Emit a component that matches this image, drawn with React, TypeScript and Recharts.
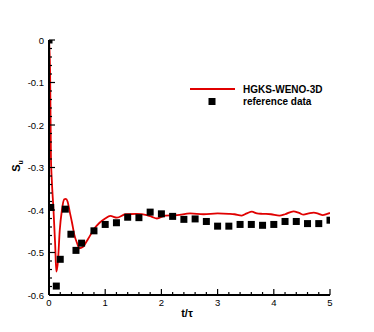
import { ComposedChart, Line, Scatter, XAxis, YAxis, Customized } from 'recharts';

// ── Data ──────────────────────────────────────────────────────────────────────

const refT = [0, 0.03, 0.13, 0.2, 0.29, 0.39, 0.48, 0.58, 0.8, 1.0, 1.2, 1.4, 1.6, 1.8, 2.0, 2.2, 2.4, 2.6, 2.8, 3.0, 3.2, 3.4, 3.6, 3.8, 4.0, 4.2, 4.4, 4.6, 4.8, 5.0];
const refSu = [0, -0.394, -0.579, -0.516, -0.398, -0.457, -0.495, -0.478, -0.449, -0.434, -0.43, -0.417, -0.418, -0.405, -0.409, -0.415, -0.422, -0.421, -0.427, -0.438, -0.438, -0.434, -0.434, -0.436, -0.434, -0.427, -0.427, -0.432, -0.432, -0.424];

const simT = [0, 0.02, 0.035, 0.05, 0.08, 0.11, 0.13, 0.16, 0.19, 0.23, 0.27, 0.3, 0.33, 0.37, 0.41, 0.45, 0.5, 0.54, 0.6, 0.7, 0.8, 0.9, 1.0, 1.09, 1.21, 1.36, 1.56, 1.74, 1.83, 1.92, 2.07, 2.28, 2.51, 2.75, 3.0, 3.2, 3.3, 3.43, 3.52, 3.61, 3.7, 3.8, 3.95, 4.1, 4.2, 4.35, 4.45, 4.53, 4.62, 4.71, 4.8, 4.87, 4.95, 5.0];
const simSu = [0, -0.08, -0.28, -0.33, -0.4, -0.482, -0.545, -0.52, -0.45, -0.4, -0.375, -0.374, -0.38, -0.405, -0.43, -0.458, -0.478, -0.49, -0.487, -0.467, -0.445, -0.43, -0.42, -0.414, -0.418, -0.41, -0.409, -0.412, -0.416, -0.42, -0.413, -0.412, -0.408, -0.41, -0.408, -0.409, -0.41, -0.413, -0.408, -0.404, -0.408, -0.409, -0.41, -0.413, -0.41, -0.403, -0.407, -0.411, -0.408, -0.406, -0.409, -0.412, -0.409, -0.407];

const xMajor = [0, 1, 2, 3, 4, 5];
const yMajor = [-0.6, -0.5, -0.4, -0.3, -0.2, -0.1, 0];

const xTicks = Array.from({ length: 26 }, (_, i) => Math.round(i * 2) / 10);
const yTicks = Array.from({ length: 31 }, (_, i) => Math.round((-0.6 + i * 0.02) * 100) / 100);

const refData = refT.map((t, i) => ({ t, su: refSu[i] }));
const simData = simT.map((t, i) => ({ t, su: simSu[i] }));

const FONT = '"Liberation Sans", Arial, Helvetica, sans-serif';
const AXIS = '#000000';

// ── Tick renderers (inward ticks, minor ticks without labels) ────────────────

function XTick({ x, y, payload }: any) {
  const v = payload.value as number;
  const major = xMajor.some((m) => Math.abs(m - v) < 1e-6);
  return (
    <g>
      <line x1={x} x2={x} y1={y} y2={y - (major ? 6 : 3)} stroke={AXIS} strokeWidth={1.2} />
      {major && (
        <text x={x} y={y + 11} textAnchor="middle" fontSize={9.5} fontFamily={FONT} fill="#000">
          {v}
        </text>
      )}
    </g>
  );
}

function YTick({ x, y, payload }: any) {
  const v = payload.value as number;
  const major = yMajor.some((m) => Math.abs(m - v) < 1e-6);
  return (
    <g>
      <line x1={x} x2={x + (major ? 6 : 3)} y1={y} y2={y} stroke={AXIS} strokeWidth={1.2} />
      {major && (
        <text x={x - 5} y={y + 3.5} textAnchor="end" fontSize={9.5} fontFamily={FONT} fill="#000">
          {v === 0 ? '0' : v.toFixed(1)}
        </text>
      )}
    </g>
  );
}

function RefSquare({ cx, cy }: any) {
  if (cx == null || cy == null) return null;
  return <rect x={cx - 3.5} y={cy - 3.5} width={7} height={7} fill="#000" />;
}

// ── Axis titles and legend ────────────────────────────────────────────────────

function Labels() {
  return (
    <g fontFamily={FONT} fill="#000">
      <text
        x={-166}
        y={20}
        transform="rotate(-90)"
        textAnchor="middle"
        fontSize={11}
        fontWeight="bold"
      >
        S<tspan fontSize={7} dy={3}>u</tspan>
      </text>
      <text x={187} y={317} textAnchor="middle" fontSize={11} fontWeight="bold">
        t/τ
      </text>
      <line x1={190} x2={235} y1={89} y2={89} stroke="#e00000" strokeWidth={1.8} />
      <text x={243} y={92.5} fontSize={10} fontWeight="bold">HGKS-WENO-3D</text>
      <rect x={208.5} y={98} width={7} height={7} fill="#000" />
      <text x={243} y={105} fontSize={10} fontWeight="bold">reference data</text>
    </g>
  );
}

export default function App() {
  return (
    <div style={{ position: 'absolute', left: 0, top: 0, width: 374, height: 332, background: '#fff' }}>
      <ComposedChart width={374} height={332} margin={{ top: 40, right: 44, bottom: 7, left: 9 }}>
        <XAxis
          type="number"
          dataKey="t"
          domain={[0, 5]}
          ticks={xTicks}
          interval={0}
          tickSize={0}
          tickMargin={0}
          tickLine={false}
          tick={<XTick />}
          axisLine={{ stroke: AXIS, strokeWidth: 2 }}
          height={30}
          allowDataOverflow
        />
        <YAxis
          type="number"
          dataKey="su"
          domain={[-0.6, 0]}
          ticks={yTicks}
          interval={0}
          tickSize={0}
          tickMargin={0}
          tickLine={false}
          tick={<YTick />}
          axisLine={{ stroke: AXIS, strokeWidth: 2 }}
          width={40}
          allowDataOverflow
        />
        <Line
          data={simData}
          dataKey="su"
          type="monotone"
          stroke="#e00000"
          strokeWidth={1.8}
          dot={false}
          activeDot={false}
          isAnimationActive={false}
        />
        <Scatter data={refData} dataKey="su" shape={<RefSquare />} isAnimationActive={false} />
        <Customized component={Labels} />
      </ComposedChart>
    </div>
  );
}
